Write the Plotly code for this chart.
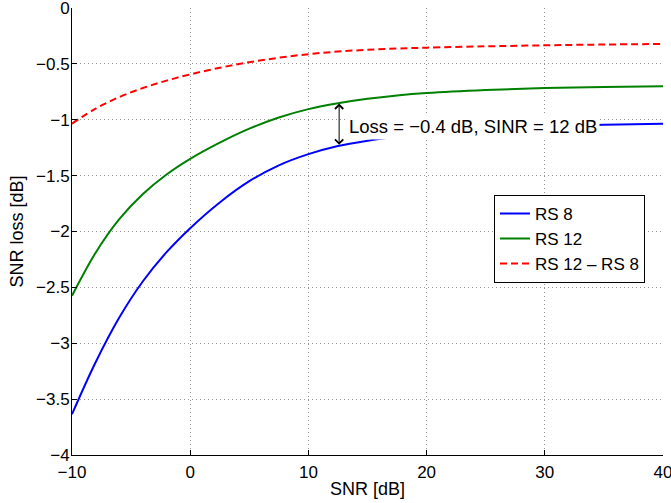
import plotly.graph_objects as go

# ---- data ----
snr_db = [-10, -8, -6, -4, -2, 0, 2.5, 5, 7.5, 10, 12.5, 15, 17.5, 20, 25, 30, 35, 40]

rs8 = [-3.635, -3.17, -2.77, -2.445, -2.185, -1.97, -1.74, -1.55, -1.408, -1.308,
       -1.235, -1.188, -1.153, -1.125, -1.085, -1.06, -1.045, -1.035]

rs12 = [-2.575, -2.19, -1.89, -1.665, -1.49, -1.35, -1.205, -1.08, -0.98, -0.905,
        -0.852, -0.812, -0.782, -0.76, -0.733, -0.716, -0.706, -0.70]

rs12_minus_rs8 = [-1.035, -0.90, -0.797, -0.716, -0.65, -0.594, -0.535, -0.485, -0.445, -0.413,
                  -0.39, -0.374, -0.363, -0.355, -0.343, -0.334, -0.327, -0.322]

series_names = ["RS 8", "RS 12", "RS 12 – RS 8"]

x_tickvals = [-10, 0, 10, 20, 30, 40]
x_ticktext = ["−10", "0", "10", "20", "30", "40"]
y_tickvals = [0, -0.5, -1, -1.5, -2, -2.5, -3, -3.5, -4]
y_ticktext = ["0", "−0.5", "−1", "−1.5", "−2", "−2.5", "−3", "−3.5", "−4"]

# annotation (double arrow between curves at SINR = 12 dB)
arrow_x = 12.6
arrow_top = -0.855
arrow_bottom = -1.238
note_text = "Loss = −0.4 dB, SINR = 12 dB"
note_x = 13.2
note_y = -1.063

FONT = "Liberation Sans, Arial, Helvetica, sans-serif"

fig = go.Figure()
fig.add_trace(go.Scatter(x=snr_db, y=rs8, mode="lines", name=series_names[0],
                         line=dict(color="rgb(0,0,255)", width=2, shape="spline")))
fig.add_trace(go.Scatter(x=snr_db, y=rs12, mode="lines", name=series_names[1],
                         line=dict(color="rgb(0,128,0)", width=2, shape="spline")))
fig.add_trace(go.Scatter(x=snr_db, y=rs12_minus_rs8, mode="lines", name=series_names[2],
                         line=dict(color="rgb(255,0,0)", width=2, shape="spline", dash="7px,4px")))

fig.add_annotation(x=arrow_x, y=arrow_top, ax=arrow_x, ay=arrow_bottom,
                   xref="x", yref="y", axref="x", ayref="y", text="",
                   showarrow=True, arrowside="end+start",
                   arrowhead=4, startarrowhead=4, arrowsize=1.6, startarrowsize=1.6,
                   arrowwidth=1, arrowcolor="black")
fig.add_annotation(x=note_x, y=note_y, xref="x", yref="y", text=note_text,
                   showarrow=False, xanchor="left", yanchor="middle",
                   bgcolor="white", borderpad=2,
                   font=dict(family=FONT, size=18.5, color="black"))

axis_common = dict(showgrid=True, gridcolor="rgb(150,150,150)", griddash="1px,3px", gridwidth=1,
                   zeroline=False, showline=True, linecolor="black", linewidth=1,
                   ticks="inside", ticklen=5, tickcolor="black", mirror=False,
                   automargin=False, ticklabeloverflow="allow",
                   tickfont=dict(family=FONT, size=17, color="black"))

fig.update_xaxes(range=[-10, 40], tickvals=x_tickvals, ticktext=x_ticktext, ticklabelstandoff=2,
                 title=dict(text="SNR [dB]", font=dict(family=FONT, size=18, color="black"), standoff=0),
                 **axis_common)
fig.update_yaxes(range=[-4, 0], tickvals=y_tickvals, ticktext=y_ticktext, ticklabelstandoff=-2,
                 title=dict(text="SNR loss [dB]", font=dict(family=FONT, size=18, color="black"), standoff=7),
                 **axis_common)

fig.update_layout(
    width=671, height=503,
    margin=dict(l=72, r=8, t=8, b=48),
    paper_bgcolor="white", plot_bgcolor="white",
    font=dict(family=FONT, size=18, color="black"),
    showlegend=True,
    legend=dict(x=0.714, y=0.582, xanchor="left", yanchor="top",
                bgcolor="white", bordercolor="black", borderwidth=1,
                font=dict(family=FONT, size=17, color="black"),
                tracegroupgap=0, itemwidth=30),
)

fig.write_html("out.html", config={"displayModeBar": False},
               post_script="document.body.style.margin='0';")
